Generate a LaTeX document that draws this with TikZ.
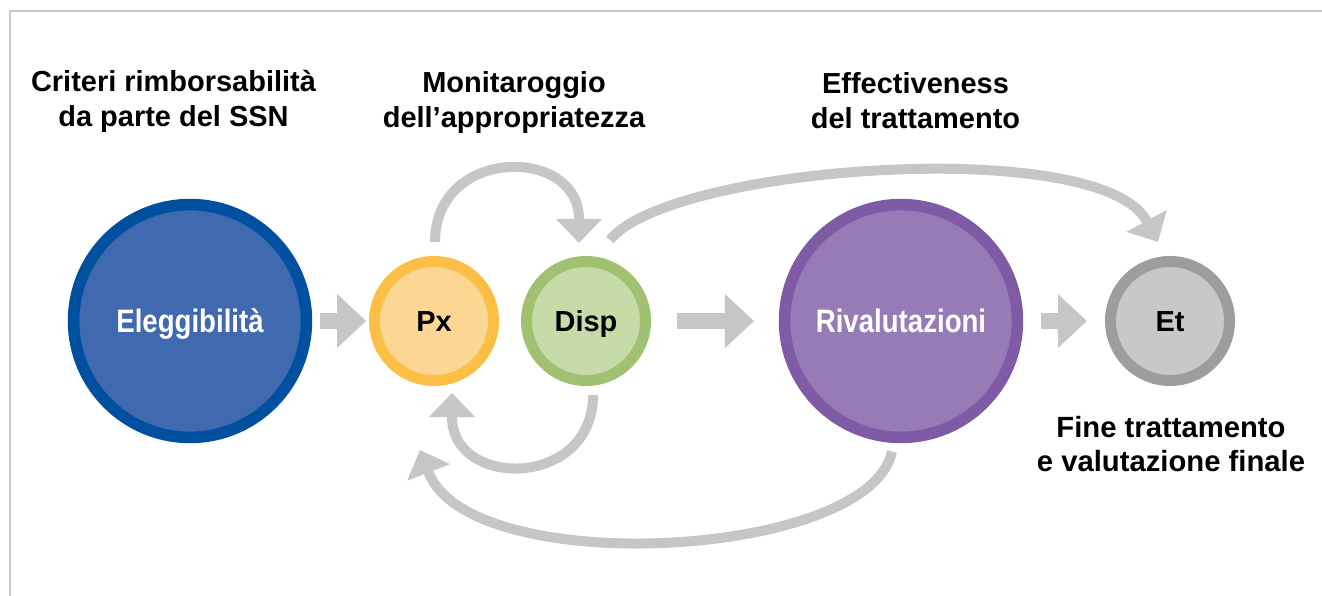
\documentclass[tikz,border=0pt]{standalone}
\usepackage{fontspec}
\setmainfont{Liberation Sans}
\newfontfamily\condfont[FakeStretch=0.85]{Liberation Sans}
\usetikzlibrary{arrows.meta, calc}

\definecolor{arrowgray}{HTML}{C6C6C6}
\definecolor{framegray}{HTML}{C8C8C8}
\definecolor{eligring}{HTML}{0050A0}
\definecolor{eligfill}{HTML}{4169B0}
\definecolor{pxring}{HTML}{FBBF45}
\definecolor{pxfill}{HTML}{FCD794}
\definecolor{dispring}{HTML}{A1C172}
\definecolor{dispfill}{HTML}{C6DBA8}
\definecolor{rivring}{HTML}{7F5BA6}
\definecolor{rivfill}{HTML}{967BB6}
\definecolor{etring}{HTML}{9D9D9D}
\definecolor{etfill}{HTML}{C8C8C8}

\begin{document}
\begin{tikzpicture}[x=0.025cm, y=-0.025cm,
    stage/.style={circle, inner sep=0pt, outer sep=0pt},
    bigstage/.style={stage, minimum size=5.82cm, line width=0.29cm, text=white,
      text height=0.58cm, text depth=0cm, font=\condfont\bfseries\fontsize{23.1}{28}\selectfont},
    smallstage/.style={stage, minimum size=2.975cm, line width=0.275cm,
      text height=0.51cm, text depth=0cm, font=\bfseries\fontsize{20.6}{24}\selectfont},
    heading/.style={align=center, font=\bfseries\fontsize{20.6}{24.9}\selectfont},
    blockarrow/.style={draw=arrowgray, line width=0.375cm,
      -{Triangle[length=0.725cm, width=1.35cm, line width=0pt]}},
    loopArrow/.style={draw=arrowgray, line width=0.25cm,
      -{Triangle[length=0.6cm, width=1.15cm, line width=0pt]}}]
  \useasboundingbox (0,0) rectangle (1322,596);
  \draw[framegray, line width=0.05cm] (1322,11) -- (10,11) -- (10,596);

  % headings
  \node[heading] (critLabel) at (173.5,101) {Criteri rimborsabilità\\da parte del SSN};
  \node[heading] (monLabel) at (514,103) {Monitaroggio\\dell’appropriatezza};
  \node[heading] (effLabel) at (915.5,100.5) {Effectiveness\\del trattamento};

  % stages
  \node[bigstage, draw=eligring, fill=eligfill] (elig) at (190,321) {Eleggibilità};
  \node[smallstage, draw=pxring, fill=pxfill] (px) at (434,321) {Px};
  \node[smallstage, draw=dispring, fill=dispfill] (disp) at (586,321) {Disp};
  \node[bigstage, draw=rivring, fill=rivfill] (rival) at (901,321) {Rivalutazioni};
  \node[smallstage, draw=etring, fill=etfill] (et) at (1170,321) {Et};
  \node[align=center, font=\bfseries\fontsize{20.8}{24.2}\selectfont] (fineLabel)
    at (1171,444) {Fine trattamento\\e valutazione finale};

  % straight arrows
  \draw[blockarrow, shorten <=0.34cm, shorten >=0.21cm] (elig) -- (px);
  \draw[blockarrow, shorten <=0.79cm, shorten >=0.765cm] (disp) -- (rival);
  \draw[blockarrow, shorten <=0.59cm, shorten >=0.59cm] (rival) -- (et);

  % loops
  \draw[loopArrow] ($(px.north)+(1,-19.5)$) .. controls +(0,-96) and +(0,-97) .. ($(disp.north)+(-7,-18.5)$);
  \draw[loopArrow] ($(disp.south)+(7,14.5)$) .. controls +(0,94) and +(0,96) .. ($(px.south)+(18,12.5)$);
  \draw[loopArrow] ($(disp.north)+(24,-21.5)$) .. controls +(60,-75) and +(-58,-107) .. ($(et.north)+(-12,-19.5)$);
  \draw[loopArrow] ($(rival.south)+(-9,14)$) .. controls +(-22,108) and +(50,130) .. ($(px.south)+(-14,69.5)$);
\end{tikzpicture}
\end{document}
